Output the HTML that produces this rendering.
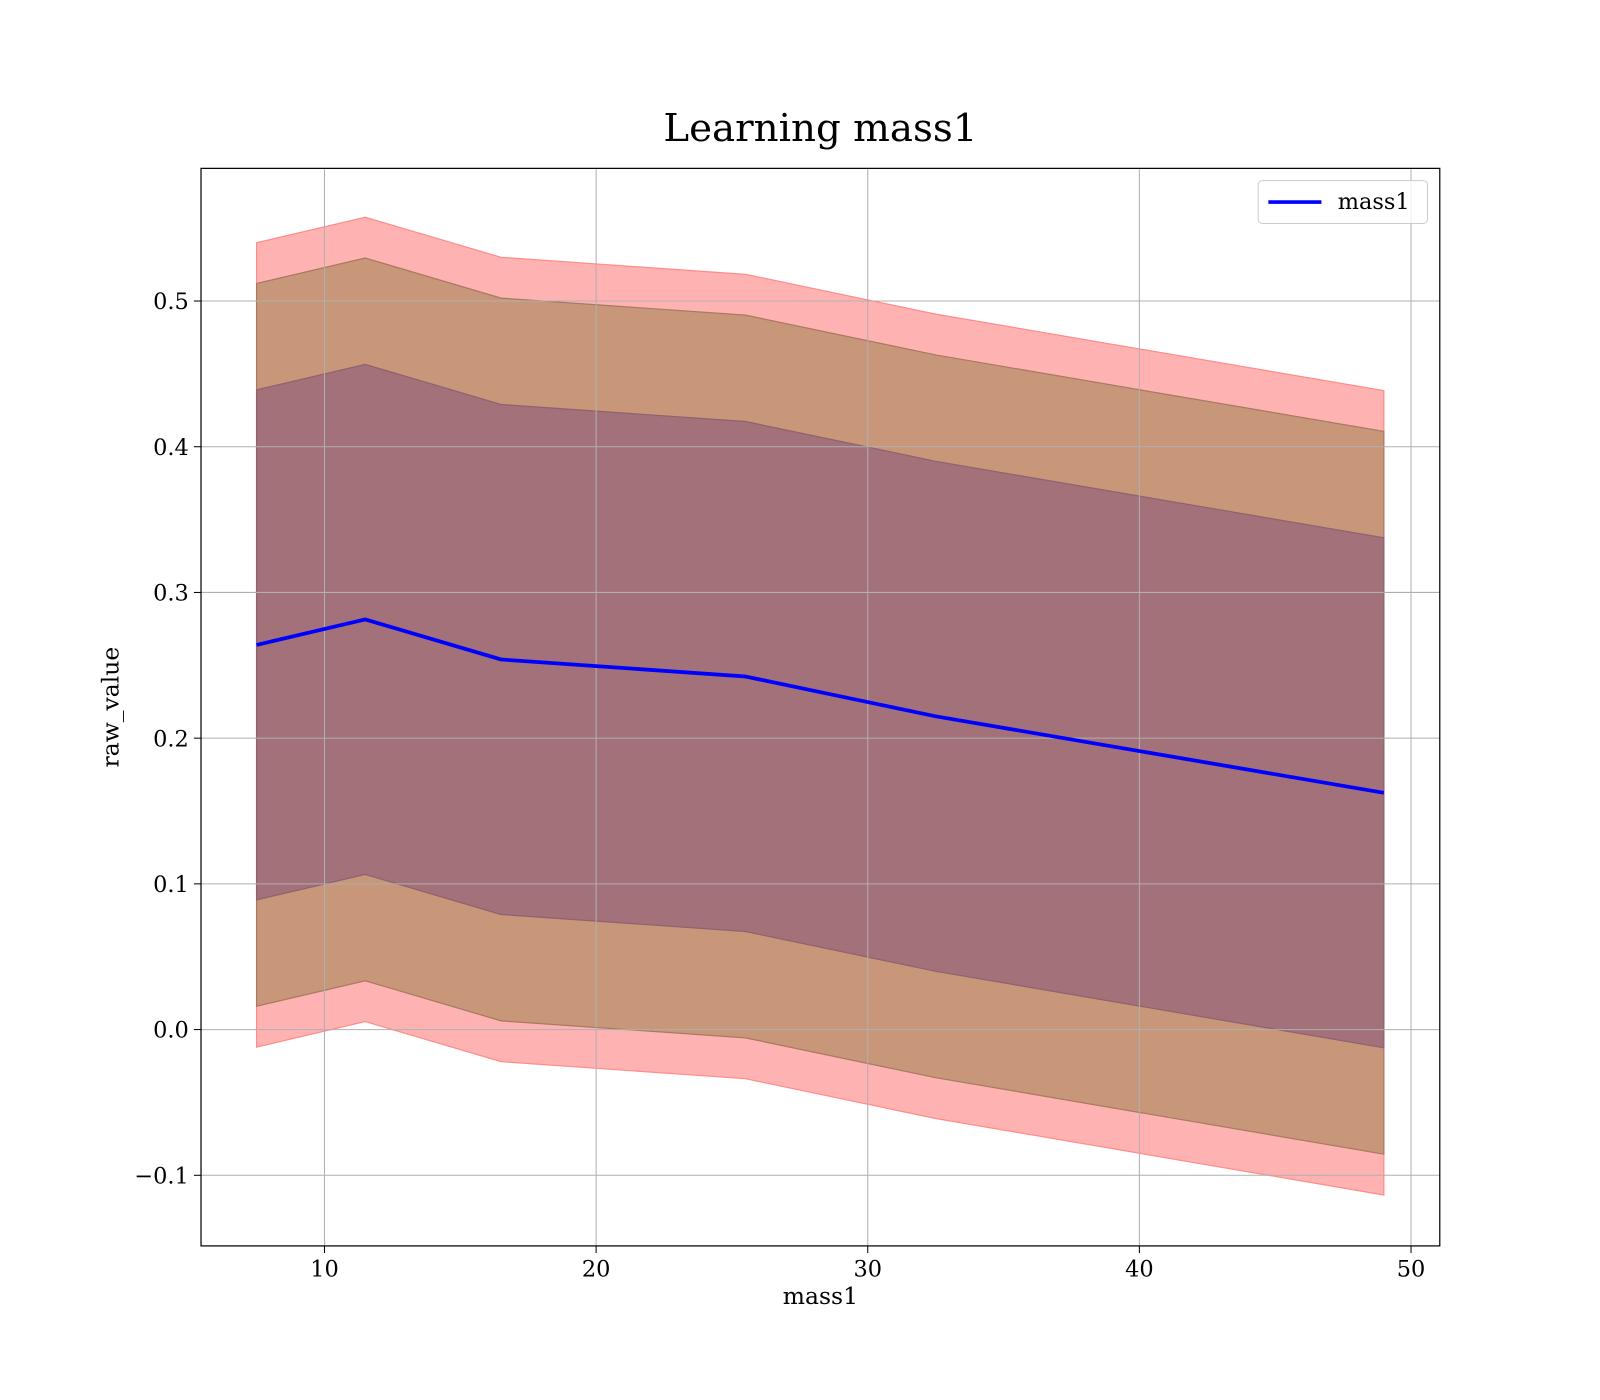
<!DOCTYPE html>
<html><head><meta charset="utf-8"><style>body{margin:0;background:#fff}svg{display:block;font-family:"DejaVu Serif","Liberation Serif",serif}</style></head>
<body>
<svg id="chart" width="1600" height="1400" viewBox="0 0 1600 1400" xmlns="http://www.w3.org/2000/svg">
<rect width="1600" height="1400" fill="#fff"/>
<g transform="scale(1.0204)">
<text x="804" y="138" font-size="38" text-anchor="middle">Learning mass1</text>
<g id="bands"></g>
<g id="grid"></g>
<g id="line"></g>
<rect x="197" y="165" width="1214" height="1056" fill="none" stroke="#000" stroke-width="1.2"/>
<g id="ticks"></g>
<text x="804" y="1278" font-size="23" text-anchor="middle">mass1</text>
<text x="0" y="0" font-size="23" text-anchor="middle" transform="translate(116,693) rotate(-90)">raw_value</text>
<g>
<rect x="1233" y="177" width="166" height="42" rx="4" fill="#fff" fill-opacity="0.8" stroke="#ccc"/>
<line x1="1243" y1="198" x2="1295" y2="198" stroke="#0000ff" stroke-width="3.5"/>
<text x="1311" y="205" font-size="22">mass1</text>
</g>
</g>
</svg>
<script>
const xs = [7.5, 11.5, 16.5, 25.5, 32.5, 49];
const means = [0.264, 0.2815, 0.254, 0.2423, 0.215, 0.1625];
const bandWidths = [0.276, 0.248, 0.175];
const xTicks = [10, 20, 30, 40, 50];
const yTicks = [-0.1, 0.0, 0.1, 0.2, 0.3, 0.4, 0.5];
const yTickLabels = ["\u22120.1", "0.0", "0.1", "0.2", "0.3", "0.4", "0.5"];

const NS = "http://www.w3.org/2000/svg";
const X = v => 318 + (v - 10) * 26.62;
const Y = v => 1009 - v * 1428;
const bandFill = ["#ffb2b2", "#c89679", "#a2717a"];
const bandEdge = ["#ff8c8c", "#a87a62", "#8f6270"];
const bands = document.getElementById('bands');
bandWidths.forEach((w, i) => {
  const up = xs.map((x, j) => X(x) + ',' + Y(means[j] + w));
  const lo = xs.map((x, j) => X(x) + ',' + Y(means[j] - w)).reverse();
  const p = document.createElementNS(NS, 'polygon');
  p.setAttribute('points', up.concat(lo).join(' '));
  p.setAttribute('fill', bandFill[i]);
  p.setAttribute('stroke', bandEdge[i]);
  p.setAttribute('stroke-width', '1.2');
  
  
  bands.appendChild(p);
});
const grid = document.getElementById('grid');
const ticks = document.getElementById('ticks');
xTicks.forEach(t => {
  const l = document.createElementNS(NS, 'line');
  l.setAttribute('x1', X(t)); l.setAttribute('x2', X(t));
  l.setAttribute('y1', 165); l.setAttribute('y2', 1221);
  l.setAttribute('stroke', '#b0b0b0'); l.setAttribute('stroke-width', '1');
  
  
  grid.appendChild(l);
  const tk = document.createElementNS(NS, 'line');
  tk.setAttribute('x1', X(t)); tk.setAttribute('x2', X(t));
  tk.setAttribute('y1', 1221); tk.setAttribute('y2', 1228);
  tk.setAttribute('stroke', '#000');
  
  
  ticks.appendChild(tk);
  const tx = document.createElementNS(NS, 'text');
  tx.setAttribute('x', X(t)); tx.setAttribute('y', 1251);
  tx.setAttribute('font-size', '22'); tx.setAttribute('text-anchor', 'middle');
  tx.textContent = t;
  
  
  ticks.appendChild(tx);
});
yTicks.forEach((t, i) => {
  const l = document.createElementNS(NS, 'line');
  l.setAttribute('x1', 197); l.setAttribute('x2', 1411);
  l.setAttribute('y1', Y(t)); l.setAttribute('y2', Y(t));
  l.setAttribute('stroke', '#b0b0b0'); l.setAttribute('stroke-width', '1');
  
  
  grid.appendChild(l);
  const tk = document.createElementNS(NS, 'line');
  tk.setAttribute('x1', 190); tk.setAttribute('x2', 197);
  tk.setAttribute('y1', Y(t)); tk.setAttribute('y2', Y(t));
  tk.setAttribute('stroke', '#000');
  
  
  ticks.appendChild(tk);
  const tx = document.createElementNS(NS, 'text');
  tx.setAttribute('x', 185); tx.setAttribute('y', Y(t) + 8);
  tx.setAttribute('font-size', '22'); tx.setAttribute('text-anchor', 'end');
  tx.textContent = yTickLabels[i];
  
  
  ticks.appendChild(tx);
});
const pl = document.createElementNS(NS, 'polyline');
pl.setAttribute('points', xs.map((x, j) => X(x) + ',' + Y(means[j])).join(' '));
pl.setAttribute('fill', 'none'); pl.setAttribute('stroke', '#0000ff');
pl.setAttribute('stroke-width', '3.7');


document.getElementById('line').appendChild(pl);
</script>
</body></html>
